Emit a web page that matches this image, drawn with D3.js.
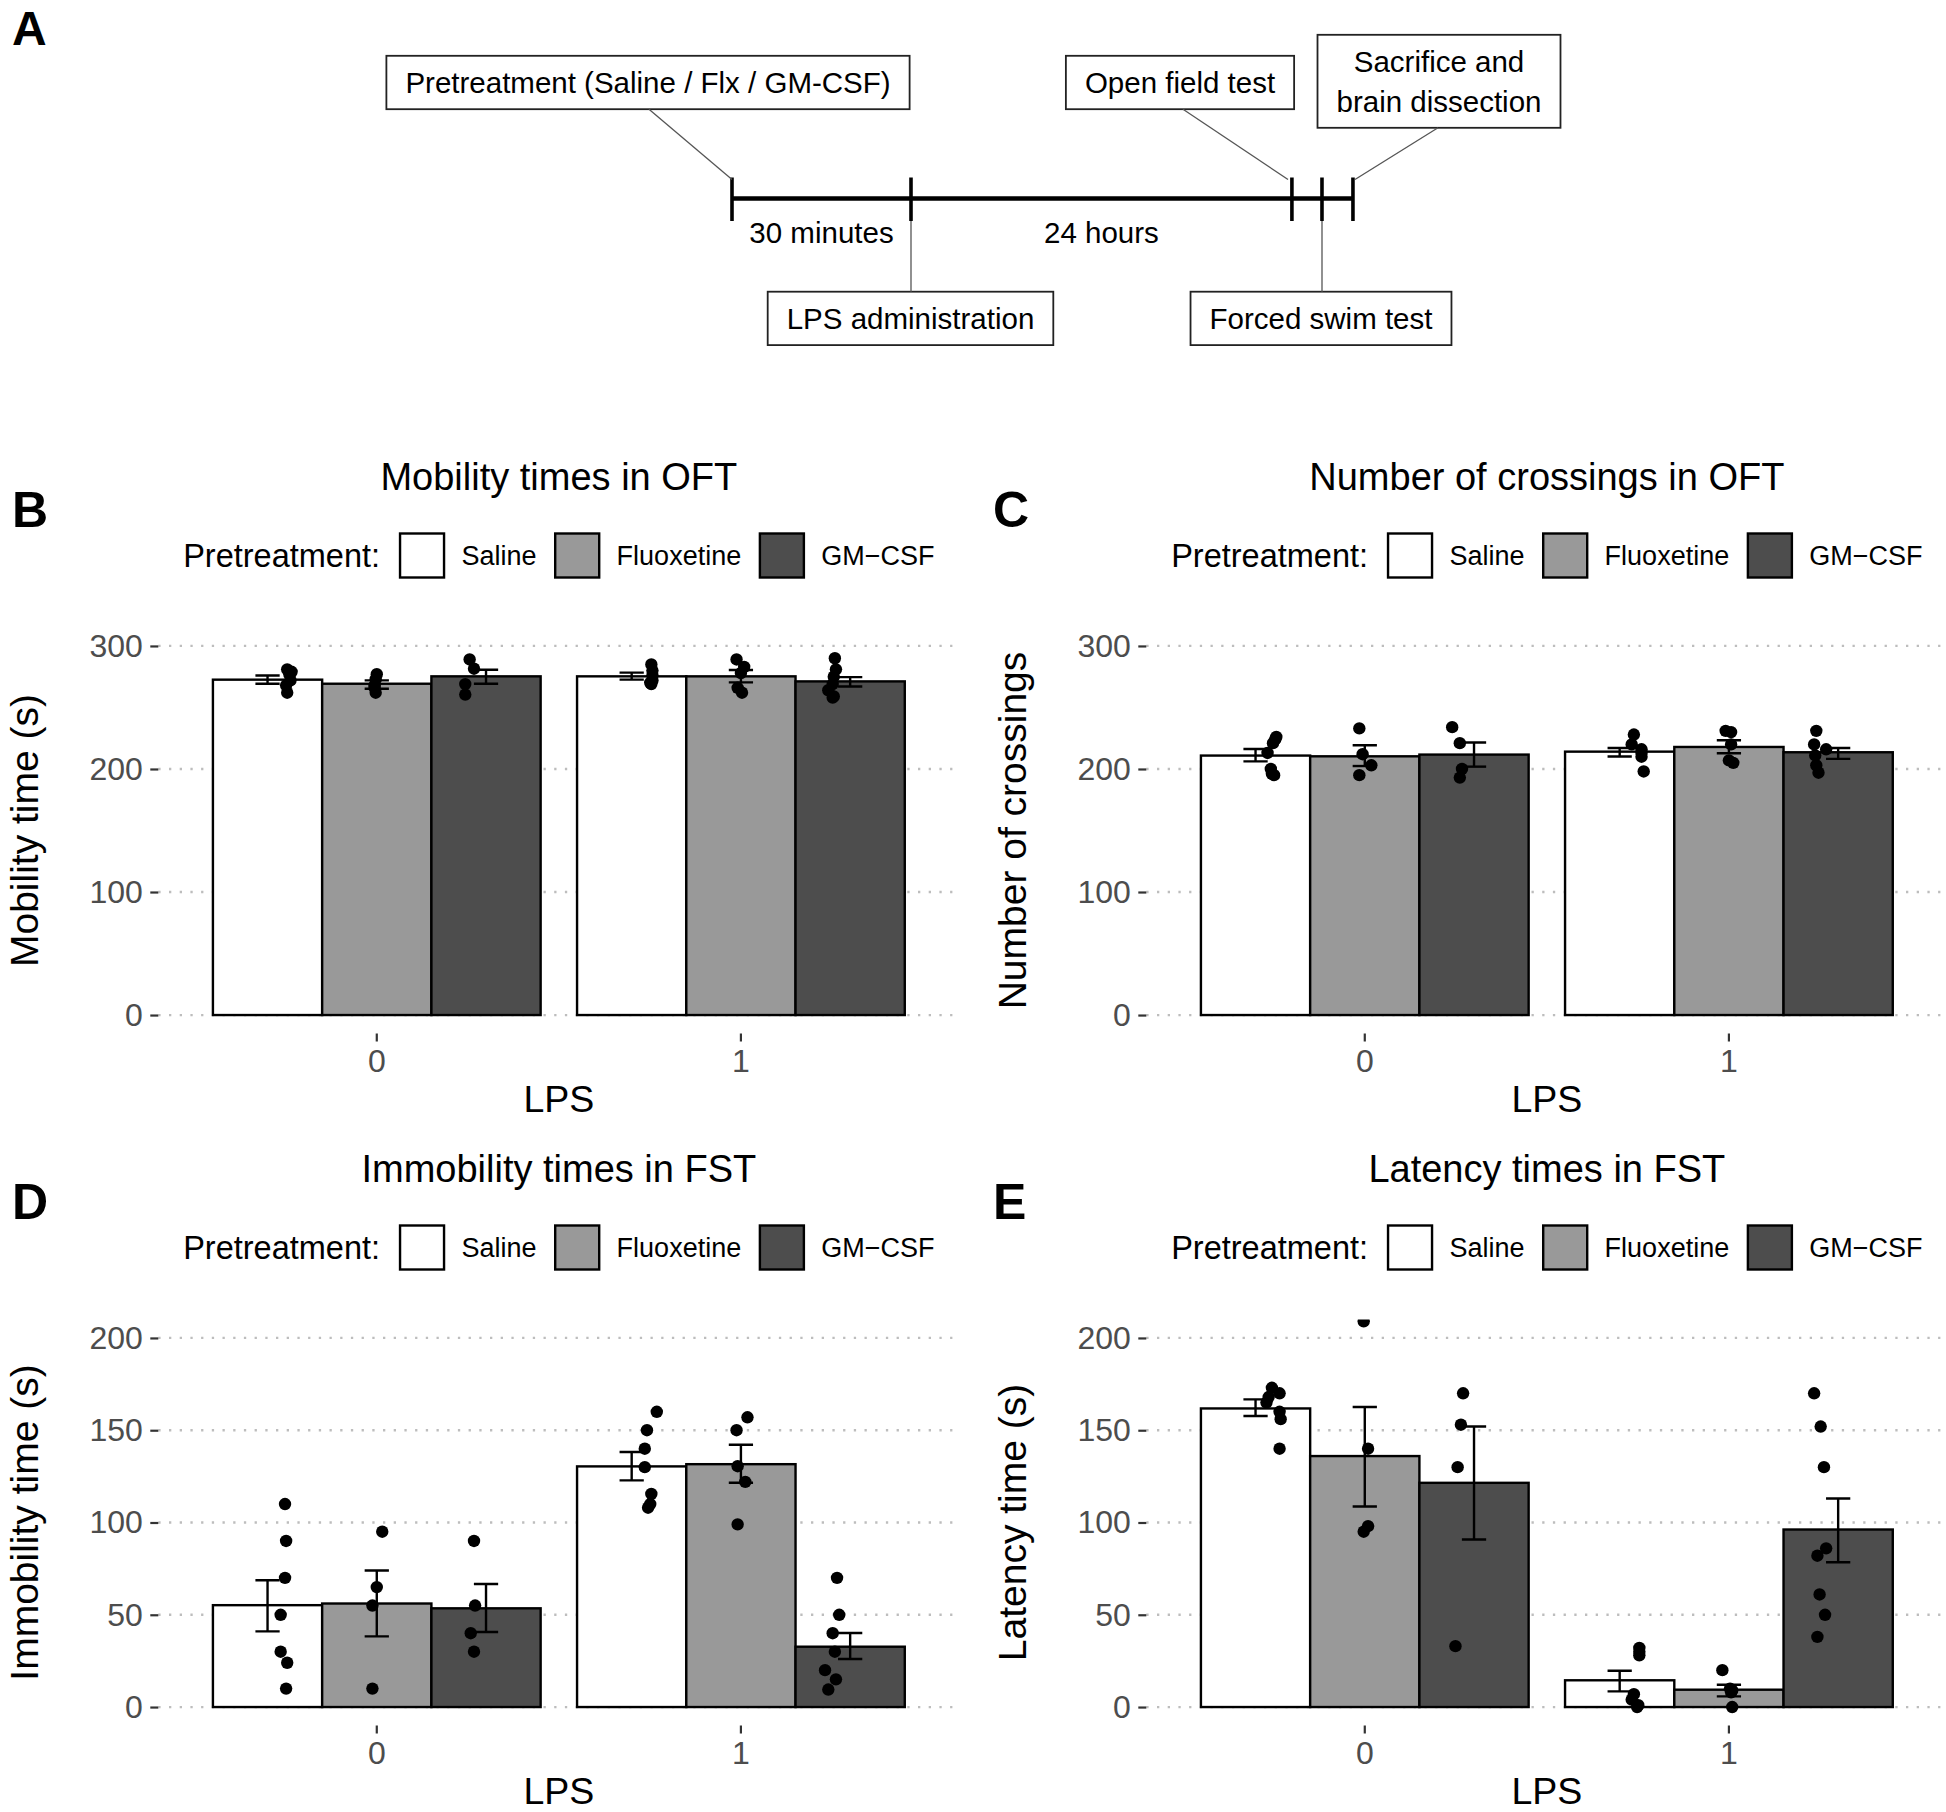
<!DOCTYPE html>
<html><head><meta charset="utf-8">
<script src="https://cdn.jsdelivr.net/npm/d3@7"></script>
<style>
body{margin:0;background:#fff;}
svg text{font-family:"Liberation Sans", Arial, Helvetica, sans-serif;}
</style></head><body>
<svg id="fig" width="1946" height="1812"></svg>
<script>
// ================= DATA =================
// Panel A: experimental timeline (schematic, not to scale)
const eventLabels = [
  ["Pretreatment (Saline / Flx / GM-CSF)"],
  ["LPS administration"],
  ["Open field test"],
  ["Forced swim test"],
  ["Sacrifice and", "brain dissection"]
];
const eventSlot = [0, 1, 3.128, 3.296, 3.469];   // schematic slot of each event on the line
const intervalLabels = ["30 minutes", "24 hours"];

// Shared categories
const lpsLevels = ["0", "1"];
const pretreatments = ["Saline", "Fluoxetine", "GM\u2212CSF"];
// order in every series: LPS0 Saline, LPS0 Fluoxetine, LPS0 GM-CSF, LPS1 Saline, LPS1 Fluoxetine, LPS1 GM-CSF

// Panel B: Mobility times in OFT
const mobilityMean = [272.6, 269.3, 275.3, 275.3, 275.3, 271.2];
const mobilityLow  = [269.3, 265.2, 269.3, 272.6, 270.4, 267.1];
const mobilityHigh = [276.0, 272.0, 280.7, 278.3, 280.4, 274.7];
const mobilityPoints = [
  [281, 279, 277, 272, 268, 262],
  [277, 273, 268, 266, 262],
  [289, 281.5, 269, 260.5],
  [285, 280, 276, 272, 270, 269],
  [289, 283, 278, 266, 262],
  [290, 281, 275, 269, 264, 259, 258]
];
const mobilityJitter = [
  [0.18, 0.22, 0.20, 0.21, 0.17, 0.18],
  [0.00, -0.01, -0.02, -0.02, -0.01],
  [-0.15, -0.11, -0.19, -0.19],
  [0.18, 0.19, 0.19, 0.19, 0.17, 0.18],
  [-0.04, 0.03, 0.00, -0.03, 0.01],
  [-0.14, -0.13, -0.15, -0.16, -0.20, -0.15, -0.16]
];

// Panel C: Number of crossings in OFT
const crossMean = [210.9, 210.3, 211.7, 214.1, 217.9, 213.6];
const crossLow  = [206.2, 202.4, 201.9, 210.1, 212.8, 208.2];
const crossHigh = [216.3, 219.3, 221.5, 217.1, 223.4, 217.1];
const crossPoints = [
  [226, 224, 221, 213, 200, 196, 195],
  [233, 212, 203, 195],
  [234, 221, 200, 193],
  [228, 220, 216, 213, 210, 198],
  [231, 230, 220, 207, 205],
  [231, 220, 216, 211, 203, 197]
];
const crossJitter = [
  [0.19, 0.18, 0.16, 0.11, 0.14, 0.15, 0.17],
  [-0.05, -0.02, 0.06, -0.05],
  [-0.20, -0.13, -0.11, -0.13],
  [0.13, 0.11, 0.20, 0.20, 0.20, 0.22],
  [-0.03, 0.02, 0.02, 0.00, 0.04],
  [-0.20, -0.22, -0.11, -0.21, -0.20, -0.18]
];

// Panel D: Immobility times in FST
const immMean = [55.2, 56.1, 53.5, 130.4, 131.6, 32.7];
const immLow  = [41.0, 38.3, 40.7, 122.8, 121.5, 26.0];
const immHigh = [68.7, 74.0, 66.7, 138.2, 142.1, 40.1];
const immPoints = [
  [110, 90, 70, 50, 30, 24, 10],
  [95, 65, 55, 10],
  [90, 55, 40, 30],
  [160, 150, 140, 130, 115.5, 110, 108],
  [157, 150, 130.5, 122, 99],
  [70, 50, 40, 30, 20, 15, 9.5]
];
const immJitter = [
  [0.16, 0.17, 0.16, 0.12, 0.12, 0.18, 0.17],
  [0.05, 0.00, -0.04, -0.04],
  [-0.11, -0.10, -0.14, -0.11],
  [0.23, 0.14, 0.12, 0.12, 0.18, 0.17, 0.15],
  [0.06, -0.04, -0.03, 0.04, -0.03],
  [-0.12, -0.10, -0.16, -0.14, -0.23, -0.13, -0.20]
];

// Panel E: Latency times in FST
const latMean = [161.8, 136.0, 121.5, 14.5, 9.4, 96.2];
const latLow  = [157.7, 108.7, 90.8, 8.5, 5.8, 78.5];
const latHigh = [166.7, 162.6, 152.0, 19.7, 12.1, 113.0];
const latPoints = [
  [173, 170, 168, 165, 160, 156, 140],
  [209, 140, 98, 95],
  [170, 153, 130, 33],
  [32, 30, 28, 7, 4, 1, 0],
  [20, 10, 9, 8, 0],
  [170, 152, 130, 86, 82, 61, 50, 38]
];
const latJitter = [
  [0.15, 0.22, 0.12, 0.10, 0.22, 0.23, 0.22],
  [-0.01, 0.03, 0.03, -0.01],
  [-0.10, -0.12, -0.15, -0.17],
  [0.18, 0.18, 0.18, 0.13, 0.11, 0.17, 0.16],
  [-0.06, 0.01, 0.03, 0.02, 0.03],
  [-0.22, -0.16, -0.13, -0.11, -0.19, -0.17, -0.12, -0.19]
];

const yTicksOFT = [0, 100, 200, 300];
const yTicksFST = [0, 50, 100, 150, 200];

// ================= STYLE / LAYOUT =================
const fills = ["#ffffff", "#999999", "#4d4d4d"];
const FONT = '"Liberation Sans", Arial, Helvetica, sans-serif';
const AFONT = '"Open Sans", "Noto Sans", sans-serif';

const panels = [
  {id:"B", title:"Mobility times in OFT", yLabel:"Mobility time (s)", mean:mobilityMean, low:mobilityLow, high:mobilityHigh, pts:mobilityPoints, jit:mobilityJitter, yMax:300, yTicks:yTicksOFT,
   x0:158.3, x1:959.4, y0:627.5, y1:1033.5, letterX:12},
  {id:"C", title:"Number of crossings in OFT", yLabel:"Number of crossings", mean:crossMean, low:crossLow, high:crossHigh, pts:crossPoints, jit:crossJitter, yMax:300, yTicks:yTicksOFT,
   x0:1146.3, x1:1947.4, y0:627.5, y1:1033.5, letterX:993},
  {id:"D", title:"Immobility times in FST", yLabel:"Immobility time (s)", mean:immMean, low:immLow, high:immHigh, pts:immPoints, jit:immJitter, yMax:200, yTicks:yTicksFST,
   x0:158.3, x1:959.4, y0:1319.5, y1:1725.5, letterX:12},
  {id:"E", title:"Latency times in FST", yLabel:"Latency time (s)", mean:latMean, low:latLow, high:latHigh, pts:latPoints, jit:latJitter, yMax:200, yTicks:yTicksFST,
   x0:1146.3, x1:1947.4, y0:1319.5, y1:1725.5, letterX:993}
];

const svg = d3.select("#fig");
svg.append("rect").attr("width", 1946).attr("height", 1812).attr("fill", "#fff");

// ================= PANEL A =================
const gA = svg.append("g");
gA.append("text").attr("x", 12).attr("y", 45).attr("font-size", 48).attr("font-weight", "bold")
  .attr("font-family", FONT).text("A");

const tX = d3.scaleLinear().domain([0, 1]).range([732, 911]);
const tlY = 198.6, tickTop = 177.5, tickBot = 221;
gA.append("line").attr("x1", tX(d3.min(eventSlot))).attr("x2", tX(d3.max(eventSlot)))
  .attr("y1", tlY).attr("y2", tlY).attr("stroke", "#000").attr("stroke-width", 4.5);
gA.selectAll("line.tick").data(eventSlot).join("line").attr("class", "tick")
  .attr("x1", d => tX(d)).attr("x2", d => tX(d)).attr("y1", tickTop).attr("y2", tickBot)
  .attr("stroke", "#000").attr("stroke-width", 3.6);
gA.selectAll("text.interval").data(intervalLabels).join("text").attr("class", "interval")
  .attr("x", (d, i) => (tX(eventSlot[i]) + tX(eventSlot[i + 1])) / 2).attr("y", 243)
  .attr("text-anchor", "middle").attr("font-size", 29.5).attr("font-family", AFONT).text(d => d);

const boxLayout = [
  {cx:648,   cy:82.5,  h:53.4, side:"top",    lx:649,  ex:732},
  {cx:910.5, cy:318.4, h:53.4, side:"bottom", lx:911,  ex:911},
  {cx:1180,  cy:82.5,  h:53.4, side:"top",    lx:1183, ex:1288},
  {cx:1321,  cy:318.4, h:53.4, side:"bottom", lx:1322, ex:1322},
  {cx:1439,  cy:81.3,  h:93,   side:"top",    lx:1438, ex:1355}
];
eventLabels.forEach((lines, i) => {
  const b = boxLayout[i];
  const g = gA.append("g");
  const rect = g.append("rect");
  let maxW = 0;
  const lh = 40;
  lines.forEach((ln, j) => {
    const t = g.append("text").attr("x", b.cx).attr("y", b.cy + 10.5 + (j - (lines.length - 1) / 2) * lh)
      .attr("text-anchor", "middle").attr("font-size", 29.5).attr("font-family", AFONT).text(ln);
    maxW = Math.max(maxW, t.node().getComputedTextLength());
  });
  const w = maxW + 38;
  rect.attr("x", b.cx - w / 2).attr("y", b.cy - b.h / 2).attr("width", w).attr("height", b.h)
    .attr("fill", "#fff").attr("stroke", "#222").attr("stroke-width", 1.8);
  const y1 = b.side === "top" ? b.cy + b.h / 2 : b.cy - b.h / 2;
  const y2 = b.side === "top" ? tickTop + 2 : tickBot;
  gA.append("line").attr("x1", b.lx).attr("y1", y1).attr("x2", b.ex).attr("y2", y2)
    .attr("stroke", "#555").attr("stroke-width", 1.3);
});

// ================= PANELS B-E =================
panels.forEach(p => {
  const g = svg.append("g");
  const x = d3.scaleBand().domain(lpsLevels).range([p.x0, p.x1]).paddingInner(0.1).paddingOuter(0.15);
  const xi = d3.scaleBand().domain(pretreatments).range([0, x.bandwidth()]);
  const y = d3.scaleLinear().domain([-0.05 * p.yMax, 1.05 * p.yMax]).range([p.y1, p.y0]);
  const cx = (p.x0 + p.x1) / 2;

  // panel letter
  g.append("text").attr("x", p.letterX).attr("y", p.y0 - 100.5).attr("font-size", 50)
    .attr("font-weight", "bold").attr("font-family", FONT).text(p.id);
  // title
  g.append("text").attr("x", cx).attr("y", p.y0 - 138).attr("text-anchor", "middle")
    .attr("font-size", 38).attr("font-family", FONT).text(p.title);

  // legend
  const keyTop = p.y0 - 94, keySize = 44, keyMid = keyTop + keySize / 2;
  const lg = g.append("g");
  const lt = lg.append("text").attr("x", 0).attr("y", keyMid + 11.6).attr("font-size", 32.5)
    .attr("font-family", FONT).text("Pretreatment:");
  let lx = lt.node().getComputedTextLength() + 20;
  pretreatments.forEach((name, i) => {
    lg.append("rect").attr("x", lx).attr("y", keyTop).attr("width", keySize).attr("height", keySize)
      .attr("fill", fills[i]).attr("stroke", "#000").attr("stroke-width", 2.4);
    lx += keySize + 17.4;
    const t = lg.append("text").attr("x", lx).attr("y", keyMid + 9.7).attr("font-size", 27)
      .attr("font-family", FONT).text(name);
    lx += t.node().getComputedTextLength();
    if (i < pretreatments.length - 1) lx += 18.7;
  });
  lg.attr("transform", `translate(${cx - lx / 2},0)`);

  // clip
  const clipId = "clip" + p.id;
  g.append("clipPath").attr("id", clipId).append("rect")
    .attr("x", p.x0).attr("y", p.y0).attr("width", p.x1 - p.x0).attr("height", p.y1 - p.y0);

  // grid
  g.append("g").selectAll("line").data(p.yTicks).join("line")
    .attr("x1", p.x0).attr("x2", p.x1).attr("y1", d => y(d)).attr("y2", d => y(d))
    .attr("stroke", "#bdbdbd").attr("stroke-width", 2.3).attr("stroke-dasharray", "2.3 8.4");

  const rows = [];
  lpsLevels.forEach((l, li) => pretreatments.forEach((t, ti) => {
    const k = li * pretreatments.length + ti;
    rows.push({l, t, ti, mean: p.mean[k], low: p.low[k], high: p.high[k], pts: p.pts[k], jit: p.jit[k]});
  }));
  const bw = xi.bandwidth();
  const ctr = d => x(d.l) + xi(d.t) + bw / 2;
  const plot = g.append("g").attr("clip-path", `url(#${clipId})`);

  plot.selectAll("rect.bar").data(rows).join("rect").attr("class", "bar")
    .attr("x", d => x(d.l) + xi(d.t)).attr("y", d => y(d.mean))
    .attr("width", bw).attr("height", d => y(0) - y(d.mean))
    .attr("fill", d => fills[d.ti]).attr("stroke", "#000").attr("stroke-width", 2.4);

  const capHalf = bw * 0.111;
  const eb = plot.selectAll("g.eb").data(rows).join("g").attr("class", "eb")
    .attr("stroke", "#000").attr("stroke-width", 2.4);
  eb.append("line").attr("x1", ctr).attr("x2", ctr).attr("y1", d => y(d.low)).attr("y2", d => y(d.high));
  eb.append("line").attr("x1", d => ctr(d) - capHalf).attr("x2", d => ctr(d) + capHalf)
    .attr("y1", d => y(d.low)).attr("y2", d => y(d.low));
  eb.append("line").attr("x1", d => ctr(d) - capHalf).attr("x2", d => ctr(d) + capHalf)
    .attr("y1", d => y(d.high)).attr("y2", d => y(d.high));

  const pts = rows.flatMap(d => d.pts.map((v, j) => ({cx: ctr(d) + d.jit[j] * bw, v})));
  plot.selectAll("circle").data(pts).join("circle")
    .attr("cx", d => d.cx).attr("cy", d => y(d.v)).attr("r", 6.2).attr("fill", "#000");

  // axes
  const yg = g.append("g").attr("transform", `translate(${p.x0},0)`)
    .call(d3.axisLeft(y).tickValues(p.yTicks).tickSize(8).tickPadding(7.5).tickFormat(d3.format("d")));
  yg.attr("font-family", null).attr("font-size", null);
  yg.select(".domain").remove();
  yg.selectAll(".tick line").attr("stroke", "#333").attr("stroke-width", 2.2);
  yg.selectAll(".tick text").attr("font-size", 32).attr("fill", "#4d4d4d").attr("font-family", FONT);

  const xg = g.append("g").attr("transform", `translate(0,${p.y1})`)
    .call(d3.axisBottom(x).tickSize(8).tickPadding(8));
  xg.attr("font-family", null).attr("font-size", null);
  xg.select(".domain").remove();
  xg.selectAll(".tick line").attr("stroke", "#333").attr("stroke-width", 2.2);
  xg.selectAll(".tick text").attr("font-size", 32).attr("fill", "#4d4d4d").attr("font-family", FONT);

  // axis titles
  g.append("text").attr("x", cx).attr("y", p.y1 + 78).attr("text-anchor", "middle")
    .attr("font-size", 37.5).attr("font-family", FONT).text("LPS");
  g.append("text").attr("transform", `translate(${p.x0 - 120},${(p.y0 + p.y1) / 2}) rotate(-90)`)
    .attr("text-anchor", "middle").attr("font-size", 39).attr("font-family", FONT).text(p.yLabel);
});
</script>
</body></html>
